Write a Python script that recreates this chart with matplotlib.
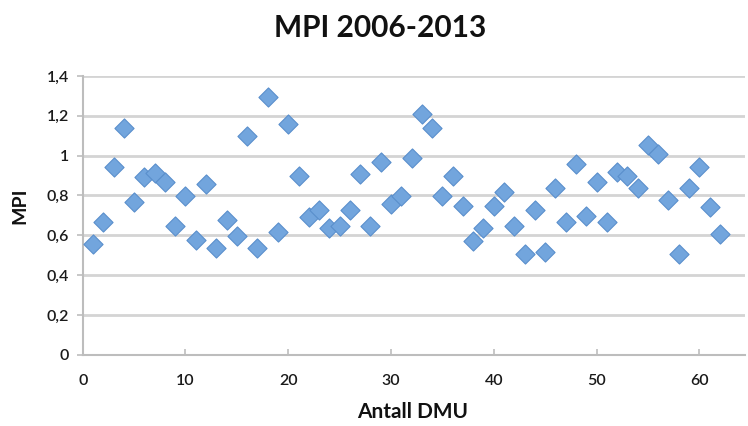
import matplotlib
matplotlib.use("Agg")
import matplotlib.pyplot as plt
from matplotlib.ticker import FuncFormatter, MultipleLocator

# MPI per DMU, 2006-2013
dmu = list(range(1, 63))
mpi = [0.555, 0.665, 0.945, 1.138, 0.766, 0.895, 0.912, 0.865, 0.648, 0.797,
       0.576, 0.858, 0.536, 0.677, 0.596, 1.099, 0.535, 1.297, 0.617, 1.158,
       0.896, 0.694, 0.727, 0.635, 0.648, 0.727, 0.908, 0.647, 0.967, 0.756,
       0.799, 0.988, 1.210, 1.138, 0.797, 0.896, 0.747, 0.573, 0.638, 0.747,
       0.819, 0.648, 0.506, 0.727, 0.515, 0.839, 0.665, 0.957, 0.699, 0.866,
       0.665, 0.920, 0.900, 0.838, 1.054, 1.007, 0.777, 0.506, 0.838, 0.945,
       0.741, 0.607]

title = "MPI 2006-2013"
xlabel = "Antall DMU"
ylabel = "MPI"

font = "Lato"

fig = plt.figure(figsize=(7.48, 4.26), dpi=100)
ax = fig.add_axes([0.1106, 0.1674, 0.8854, 0.6542])

ax.scatter(dmu, mpi, marker="D", s=95, facecolor="#72a5dd", edgecolor="#5a8fcc",
           linewidth=0.8, zorder=3)

ax.set_xlim(0, 64.45)
ax.set_ylim(0, 1.4)
ax.xaxis.set_major_locator(MultipleLocator(10))
ax.yaxis.set_major_locator(MultipleLocator(0.2))

def comma_fmt(v, pos):
    if abs(v) < 1e-9:
        return "0"
    if abs(v - round(v)) < 1e-9:
        return str(int(round(v)))
    return f"{v:.1f}".replace(".", ",")

ax.yaxis.set_major_formatter(FuncFormatter(comma_fmt))
ax.xaxis.set_major_formatter(FuncFormatter(lambda v, p: str(int(round(v)))))

ax.grid(axis="y", color="#d4d4d4", linewidth=2.0, zorder=0)
ax.set_axisbelow(True)
for side in ("top", "right"):
    ax.spines[side].set_visible(False)
for side in ("left", "bottom"):
    ax.spines[side].set_color("#bdbdbd")
    ax.spines[side].set_linewidth(1.5)
ax.tick_params(axis="both", colors="#bdbdbd", length=4, width=1.2,
               labelcolor="#1a1a1a", labelsize=11.5)
ax.tick_params(axis="x", direction="in", pad=14)
ax.tick_params(axis="y", direction="out", pad=6)
for lbl in ax.get_xticklabels() + ax.get_yticklabels():
    lbl.set_fontfamily(font)
    lbl.set_fontweight("semibold")

fig.text(0.508, 0.934, title, ha="center", va="center", fontsize=21.5,
         fontweight="bold", family=font, color="#111111")
fig.text(0.552, 0.033, xlabel, ha="center", va="center", fontsize=15,
         fontweight="bold", family=font, color="#111111")
fig.text(0.026, 0.516, ylabel, ha="center", va="center", fontsize=14,
         fontweight="bold", family=font, color="#111111", rotation=90)

fig.savefig("out.png", dpi=100)
